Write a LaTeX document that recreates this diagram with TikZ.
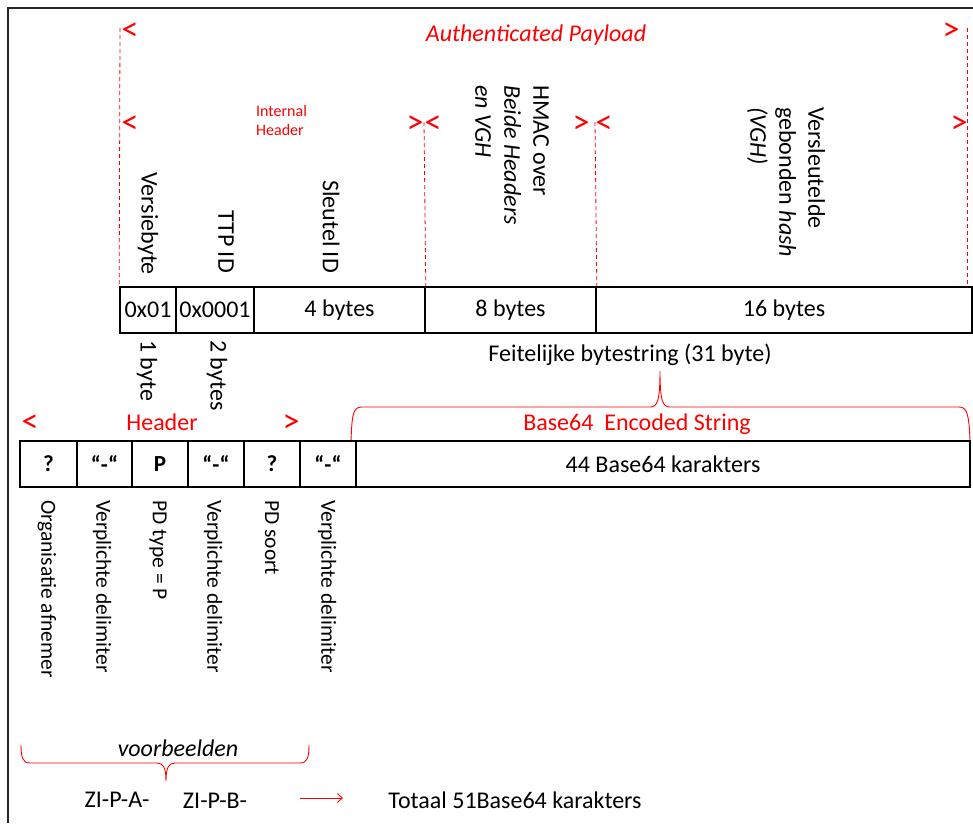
\documentclass[tikz,border=0pt]{standalone}
\usepackage{fontspec}
\setmainfont{Carlito}
\usetikzlibrary{arrows.meta}
\begin{document}
\begin{tikzpicture}[x=1pt,y=-1pt,
  every node/.style={inner sep=0pt},
  cell/.style={draw=black, line width=1.6pt, minimum height=46pt, font=\fontsize{24}{28}\selectfont},
  bcell/.style={cell, font=\fontsize{23}{26}\selectfont\bfseries},
  rlabel/.style={rotate=-90, font=\fontsize{24}{29}\selectfont, align=left},
  slabel/.style={rotate=-90, font=\fontsize{21.5}{26}\selectfont},
  redtxt/.style={text=red, font=\fontsize{24}{28}\selectfont},
  marker/.style={text=red, font=\fontsize{34}{36}\selectfont},
  reddash/.style={draw=red, line width=0.8pt, dash pattern=on 4pt off 3pt},
  redline/.style={draw=red, line width=0.9pt},
  frameline/.style={draw=black!85, line width=1.8pt},
  plain/.style={font=\fontsize{24}{28}\selectfont}
]
\useasboundingbox (0,0) rectangle (973,823);
% outer frame (only top and left visible)
\coordinate (fbl) at (8,823);
\coordinate (ftl) at (8,8);
\coordinate (ftr) at (973,8);
\draw[frameline] (fbl) -- (ftl) -- (ftr);

% titles and markers
\node[text=red, font=\fontsize{24}{28}\selectfont\itshape] (ap) at (536,35) {Authenticated Payload};
\node[marker] (m1) at (130,32) {<};
\node[marker] (m2) at (951,32) {>};
\node[marker] (m3) at (130,125) {<};
\node[marker] (m4) at (415,125) {>};
\node[marker] (m5) at (433,125) {<};
\node[marker] (m6) at (581,125) {>};
\node[marker] (m7) at (604,125) {<};
\node[marker] (m8) at (959,125) {>};
\node[text=red, font=\fontsize{16}{19}\selectfont, align=left, anchor=north west] (ih) at (256,105) {Internal\\Header};

% upper table
\node[cell, minimum width=56pt] (c1) at (148,310) {0x01};
\node[cell, minimum width=78pt] (c2) at (215,310) {0x0001};
\node[cell, minimum width=171pt] (c3) at (339.5,310) {4 bytes};
\node[cell, minimum width=171pt] (c4) at (510.5,310) {8 bytes};
\node[cell, minimum width=376pt] (c5) at (784,310) {16 bytes};

% dashed red guides
\coordinate (g1) at (120,28);
\coordinate (g2) at (424,122);
\coordinate (g3) at (595,122);
\coordinate (g4) at (967,28);
\coordinate (g4b) at (967,287);
\draw[reddash] (g1) -- (c1.north west);
\draw[reddash] (g2) -- (c3.north east);
\draw[reddash] (g3) -- (c4.north east);
\draw[reddash] (g4) -- (g4b);

% rotated field names
\node[rlabel, anchor=east] (vb) at (148,275) {Versiebyte};
\node[rlabel, anchor=east] (ttp) at (226,273) {TTP ID};
\node[rlabel, anchor=east] (sid) at (331,273) {Sleutel\ ID};
\node[rlabel, anchor=west] (hmac) at (512,85) {HMAC over\\\textit{Beide Headers}\\\textit{en VGH}};
\node[rlabel, anchor=west] (vgh) at (786,107) {Versleutelde\\gebonden \textit{hash}\\\textit{(VGH)}};
\node[rlabel, anchor=west] (b1) at (147,340) {1 byte};
\node[rlabel, anchor=west] (b2) at (217,340) {2 bytes};

\node[plain] (feit) at (630,355) {Feitelijke bytestring (31 byte)};

% upper brace
\draw[redline] (351,441) .. controls (352,414) and (353,407) .. (362,407) -- (650,407)
  .. controls (657,407) and (660,402) .. (660,371)
  .. controls (660,402) and (663,407) .. (670,407) -- (959,407)
  .. controls (967,407) and (969,414) .. (970,441);
\node[redtxt] (b64) at (637,424) {Base64\ \ Encoded String};

% header markers
\node[marker] (hm1) at (30,424) {<};
\node[redtxt] (hdr) at (162,422) {Header};
\node[marker] (hm2) at (291,424) {>};

% lower table
\node[bcell, minimum width=57pt] (d1) at (48.5,464) {?};
\node[bcell, minimum width=55pt] (d2) at (104.5,464) {“-“};
\node[bcell, minimum width=56pt] (d3) at (160,464) {P};
\node[bcell, minimum width=56pt] (d4) at (216,464) {“-“};
\node[bcell, minimum width=56pt] (d5) at (272,464) {?};
\node[bcell, minimum width=56pt] (d6) at (328,464) {“-“};
\node[cell, minimum width=614pt] (d7) at (663,464) {44 Base64 karakters};

% lower rotated labels
\node[slabel, anchor=west] (l1) at (47,500) {Organisatie afnemer};
\node[slabel, anchor=west] (l2) at (102,500) {Verplichte delimiter};
\node[slabel, anchor=west] (l3) at (158,500) {PD type = P};
\node[slabel, anchor=west] (l4) at (213,500) {Verplichte delimiter};
\node[slabel, anchor=west] (l5) at (272,500) {PD soort};
\node[slabel, anchor=west] (l6) at (327,500) {Verplichte delimiter};

% bottom brace and examples
\node[font=\fontsize{24}{28}\selectfont\itshape] (vb2) at (178,748) {voorbeelden};
\draw[redline] (21,745) .. controls (21,758) and (23,763) .. (30,763) -- (157,763)
  .. controls (163,763) and (166,767) .. (166,781)
  .. controls (166,767) and (169,763) .. (175,763) -- (300,763)
  .. controls (307,763) and (309,758) .. (309,745);
\node[plain] (za) at (117,800) {ZI-P-A-};
\node[plain] (zb) at (215,801) {ZI-P-B-};
\node[plain] (tot) at (515,800) {Totaal 51Base64 karakters};
\coordinate (a1) at (300,798);
\coordinate (a2) at (343,798);
\draw[redline, -{Straight Barb[length=5pt,width=9pt]}] (a1) -- (a2);
\end{tikzpicture}
\end{document}
